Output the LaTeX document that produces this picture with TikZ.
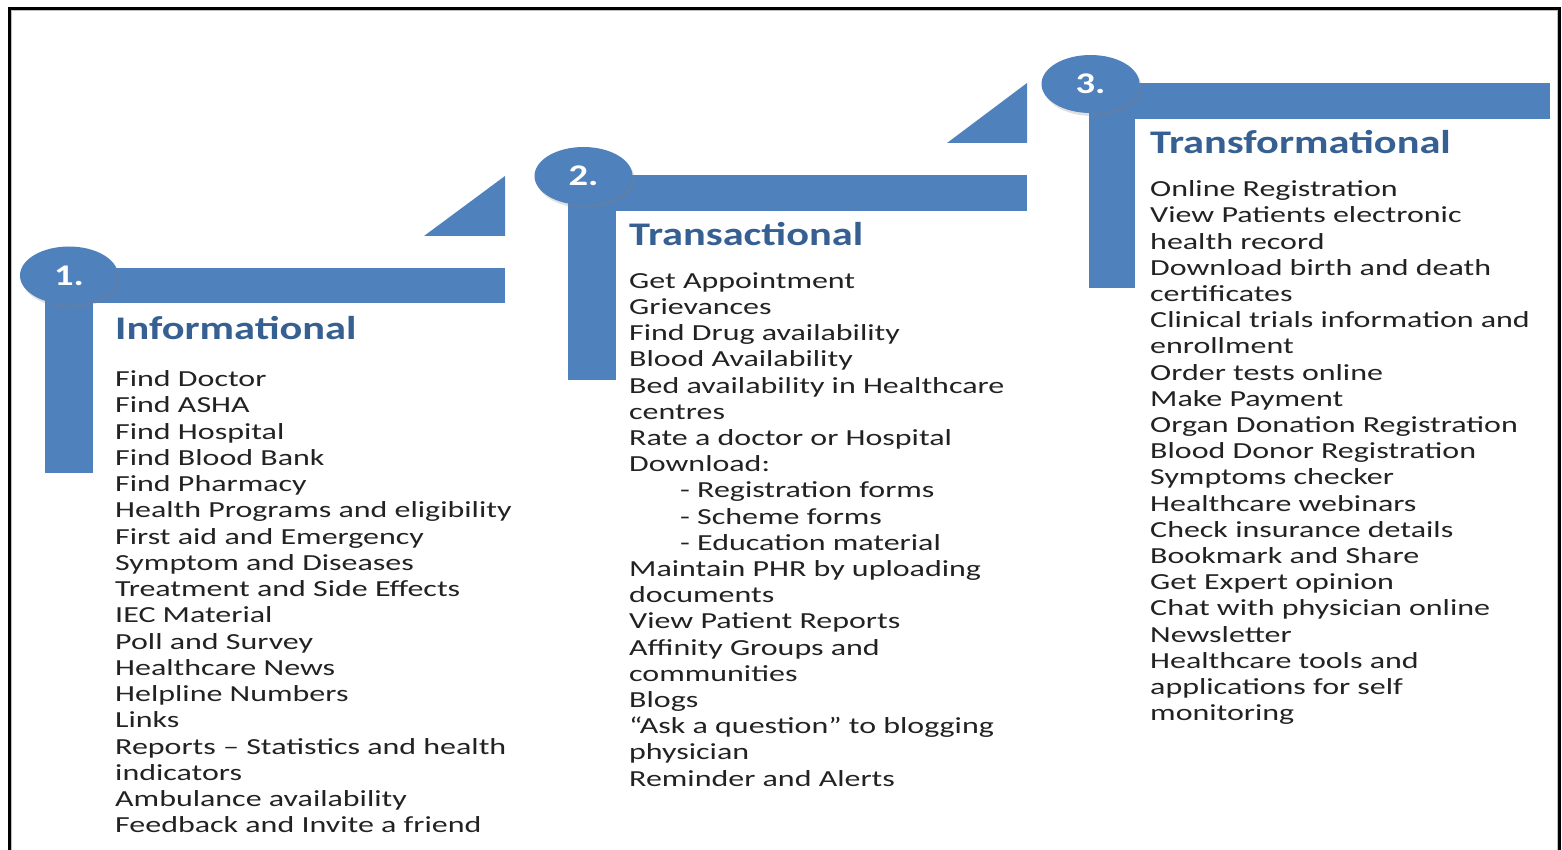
\documentclass[tikz,border=0pt]{standalone}
\usepackage{fontspec}
\setmainfont{Carlito}[FakeStretch=1.39]
\newfontfamily\headfont{Carlito}[FakeStretch=1.285]
\usetikzlibrary{shapes.geometric,shadows}
\definecolor{stepblue}{HTML}{4F81BD}
\definecolor{headblue}{HTML}{376092}
\definecolor{itemgray}{HTML}{222222}
\tikzset{
  itemtext/.style={anchor=base west, inner sep=0pt, text=itemgray, font=\fontsize{23}{26}\selectfont},
  headtext/.style={anchor=base west, inner sep=0pt, text=headblue, font=\headfont\fontsize{33}{36}\selectfont\bfseries},
  numcirc/.style={ellipse, fill=stepblue, minimum width=98pt, minimum height=58pt, inner sep=0pt,
     text=white, font=\headfont\fontsize{30}{30}\selectfont\bfseries,
     drop shadow={shadow xshift=2pt, shadow yshift=-3pt, opacity=0.25}},
  bar/.style={fill=stepblue},
  frameline/.style={line width=3pt, black}
}
\newcommand{\numtext}[1]{\raisebox{-9.5pt}[0pt][0pt]{#1}}
\begin{document}
\begin{tikzpicture}[x=1pt,y=-1pt]
\useasboundingbox (0,0) rectangle (1562,850);
% frame
\draw[gray!50, line width=1pt] (11,850) -- (11,11) -- (1557,11) -- (1557,850);
\draw[frameline] (9,851) -- (9,8.5) -- (1559.5,8.5) -- (1559.5,851);

% step 1
\fill[bar] (424,236) -- (505,176) -- (505,236) -- cycle;
\fill[bar] (45,268) rectangle (505,303);
\fill[bar] (45,268) rectangle (93,473);
\node[numcirc] (n1) at (69,275.5) {\numtext{1.}};

% step 2
\fill[bar] (947,143) -- (1027,83) -- (1027,143) -- cycle;
\fill[bar] (568,175) rectangle (1027,211);
\fill[bar] (568,175) rectangle (616,380);
\node[numcirc] (n2) at (583.5,176) {\numtext{2.}};

% step 3
\fill[bar] (1089,83) rectangle (1550,119);
\fill[bar] (1089,83) rectangle (1135,288);
\node[numcirc] (n3) at (1090.5,84) {\numtext{3.}};

% headings
\node[headtext] (h1) at (115,339) {Informational};
\node[headtext] (h2) at (629,246) {Transactional};
\node[headtext] (h3) at (1150,153.3) {Transformational};

% column 1
\foreach \t [count=\i] in {Find Doctor, Find ASHA, Find Hospital, Find Blood Bank, Find Pharmacy,
  Health Programs and eligibility, First aid and Emergency, Symptom and Diseases,
  Treatment and Side Effects, IEC Material, Poll and Survey, Healthcare News,
  Helpline Numbers, Links, Reports – Statistics and health, indicators,
  Ambulance availability, Feedback and Invite a friend}
  \node[itemtext] (a\i) at (115,{386.7+26.24*(\i-1)}) {\t};

% column 2
\foreach \t [count=\i] in {Get Appointment, Grievances, Find Drug availability, Blood Availability,
  Bed availability in Healthcare, centres, Rate a doctor or Hospital, Download:,
  {\hspace*{51pt}- Registration forms}, {\hspace*{51pt}- Scheme forms}, {\hspace*{51pt}- Education material},
  Maintain PHR by uploading, documents, View Patient Reports, Affinity Groups and,
  communities, Blogs, “Ask a question” to blogging, physician, Reminder and Alerts}
  \node[itemtext] (b\i) at (629,{288.3+26.2*(\i-1)}) {\t};

% column 3
\foreach \t [count=\i] in {Online Registration, View Patients electronic, health record,
  Download birth and death, certificates, Clinical trials information and, enrollment,
  Order tests online, Make Payment, Organ Donation Registration, Blood Donor Registration,
  Symptoms checker, Healthcare webinars, Check insurance details, Bookmark and Share,
  Get Expert opinion, Chat with physician online, Newsletter, Healthcare tools and,
  applications for self, monitoring}
  \node[itemtext] (c\i) at (1150,{196.7+26.2*(\i-1)}) {\t};
\end{tikzpicture}
\end{document}
